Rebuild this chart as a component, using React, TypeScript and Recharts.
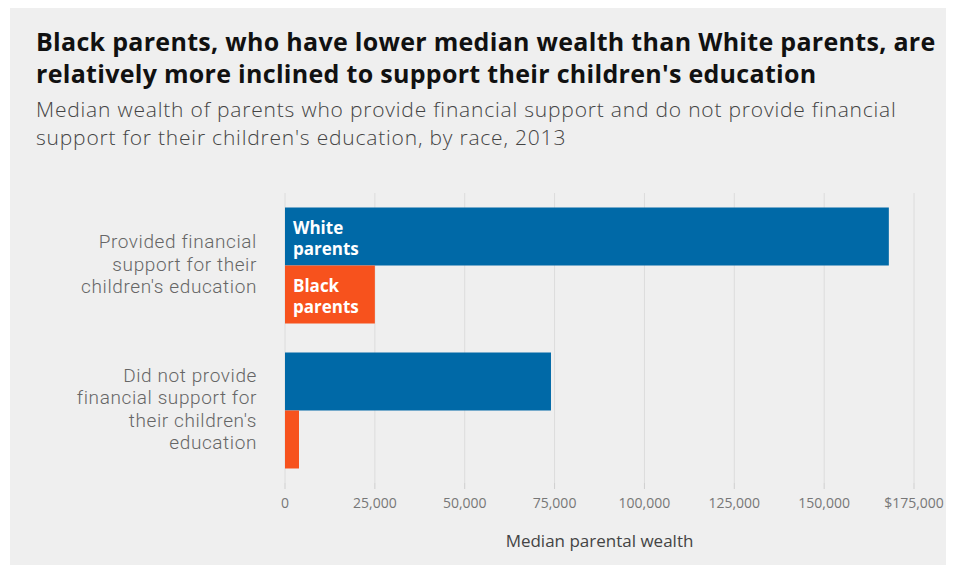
import React from 'react';
import {
  BarChart,
  Bar,
  XAxis,
  YAxis,
  CartesianGrid,
  LabelList,
  Label,
} from 'recharts';

const categoryLines = [
  ['Provided financial', 'support for their', "children's education"],
  ['Did not provide', 'financial support for', "their children's", 'education'],
];
const categories = categoryLines.map((lines) => lines.join(' '));
const whiteValues = [168000, 74000];
const blackValues = [25000, 3900];
const xTicks = [0, 25000, 50000, 75000, 100000, 125000, 150000, 175000];

const WHITE = '#0069a7';
const BLACK = '#f7521d';
const FONT = '"Open Sans", Roboto, sans-serif';
const TICK_FONT = 'Roboto, "Open Sans", sans-serif';

const data = categories.map((name, i) => ({
  name,
  white: whiteValues[i],
  black: blackValues[i],
}));

const formatTick = (v: number) => {
  if (v === 0) return '0';
  const s = v.toLocaleString('en-US');
  return v === xTicks[xTicks.length - 1] ? `$${s}` : s;
};

function CategoryTick(props: any) {
  const { x, y, payload } = props;
  const idx = categories.indexOf(payload.value);
  const lines = categoryLines[idx] || [payload.value];
  const start = -((lines.length - 1) * 22.5) / 2 + 5;
  return (
    <g>
      {lines.map((line, i) => (
        <text
          key={line}
          x={x}
          y={y + start + i * 22.5}
          textAnchor="end"
          fill="#666"
          fontSize={19}
          fontFamily={TICK_FONT}
          fontWeight={300}
          letterSpacing={0.6}
        >
          {line}
        </text>
      ))}
    </g>
  );
}

function seriesLabel(words: string[]) {
  return (props: any) => {
    const { x, y, index } = props;
    if (index !== 0) return null;
    return (
      <g>
        {words.map((w, i) => (
          <text
            key={w}
            x={Number(x) + 8}
            y={Number(y) + 26 + i * 21.5}
            fill="#fff"
            fontSize={17}
            fontWeight={700}
            fontFamily={FONT}
          >
            {w}
          </text>
        ))}
      </g>
    );
  };
}

export default function App() {
  return (
    <div
      style={{
        position: 'relative',
        left: 2,
        top: -1,
        width: 940,
        height: 558,
        background: '#efefef',
        fontFamily: FONT,
      }}
    >
      <div
        style={{
          position: 'absolute',
          left: 26,
          top: 18,
          fontSize: 25,
          fontWeight: 700,
          lineHeight: '32px',
          letterSpacing: 0.3,
          color: '#111',
          whiteSpace: 'nowrap',
        }}
      >
        <div>Black parents, who have lower median wealth than White parents, are</div>
        <div>relatively more inclined to support their children's education</div>
      </div>
      <div
        style={{
          position: 'absolute',
          left: 26,
          top: 88,
          fontSize: 21,
          fontWeight: 300,
          lineHeight: '28.3px',
          letterSpacing: 0.8,
          color: '#444',
          whiteSpace: 'nowrap',
        }}
      >
        <div>Median wealth of parents who provide financial support and do not provide financial</div>
        <div>support for their children's education, by race, 2013</div>
      </div>
      <div style={{ position: 'absolute', left: 0, top: 0 }}>
        <BarChart
          width={940}
          height={558}
          data={data}
          layout="vertical"
          margin={{ top: 186, right: 36, bottom: 52, left: 0 }}
          barGap={0}
          barCategoryGap="10%"
        >
          <CartesianGrid horizontal={false} stroke="#dcdcdc" />
          <XAxis
            type="number"
            domain={[0, 175000]}
            ticks={xTicks}
            tickFormatter={formatTick}
            axisLine={false}
            tickLine={{ stroke: '#cfcfcf' }}
            tickSize={6}
            tickMargin={9}
            height={30}
            tick={{ fill: '#777', fontSize: 14, fontFamily: FONT }}
          >
            <Label
              value="Median parental wealth"
              position="bottom"
              offset={22}
              fill="#444"
              fontSize={17}
              fontFamily={FONT}
            />
          </XAxis>
          <YAxis
            type="category"
            dataKey="name"
            width={275}
            axisLine={false}
            tickLine={false}
            tickSize={0}
            tickMargin={28}
            tick={<CategoryTick />}
          />
          <Bar dataKey="white" fill={WHITE} isAnimationActive={false}>
            <LabelList dataKey="white" content={seriesLabel(['White', 'parents'])} />
          </Bar>
          <Bar dataKey="black" fill={BLACK} isAnimationActive={false}>
            <LabelList dataKey="black" content={seriesLabel(['Black', 'parents'])} />
          </Bar>
        </BarChart>
      </div>
    </div>
  );
}
